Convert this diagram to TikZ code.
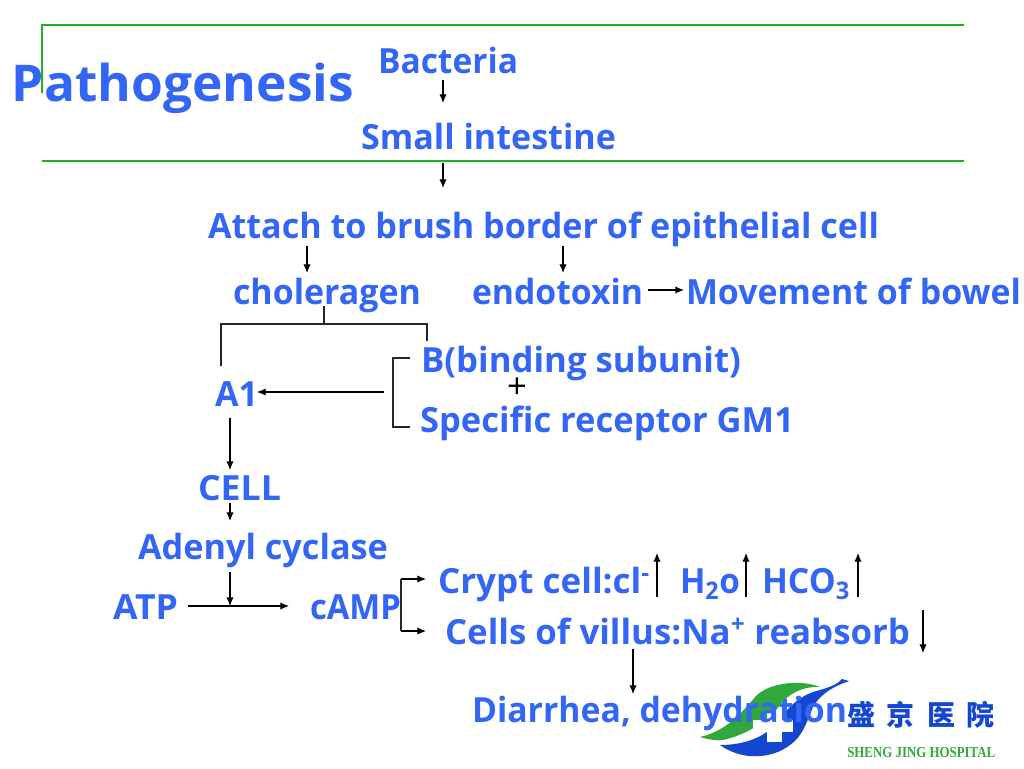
\documentclass[tikz,border=0pt]{standalone}
\usepackage{fontspec}
\usepackage{graphicx}
\setmainfont{Open Sans}
\newfontfamily\cjkfont{Noto Sans CJK SC}
\newfontfamily\hospfont{Liberation Serif}
\definecolor{txtblue}{HTML}{3366F5}
\definecolor{rulegreen}{HTML}{22B022}
\definecolor{logogreen}{HTML}{2FA83C}
\definecolor{logoblue}{HTML}{1546D2}
\usetikzlibrary{arrows.meta}
\newlength\fitlen
\newcommand\fitpx[2]{\setlength\fitlen{#1pt}\setlength\fitlen{0.75\fitlen}\resizebox{\fitlen}{\height}{#2}}
\tikzset{
  x=0.75pt,y=-0.75pt,
  lbl/.style={anchor=base west,inner sep=0,outer sep=0,yshift=-0.6pt,text=txtblue,font=\bfseries\fontsize{26}{30}\selectfont},
  conn/.style={draw=black,line width=0.8pt,-{Latex[length=6.5pt,width=5.5pt]}},
  plain/.style={draw=black!85,line width=0.8pt},
  greenrule/.style={draw=rulegreen,line width=1.2pt}
}
\begin{document}
\begin{tikzpicture}
\useasboundingbox (0,0) rectangle (1024,768);
% logo
\fill[logogreen] (700,737) .. controls (730,730) and (745,708) .. (757,695) .. controls (770,683) and (800,679) .. (820,687) .. controls (805,686) and (790,692) .. (780,705) .. controls (768,722) and (745,735) .. (723,740) .. controls (715,741) and (707,739) .. (700,737) -- cycle;
\fill[logoblue] (720,745) .. controls (745,745) and (765,737) .. (778,722) .. controls (790,705) and (800,695) .. (820,690) .. controls (830,687) and (838,684) .. (842,679) -- (849,681) .. controls (835,686) and (822,692) .. (813,707) .. controls (807,722) and (802,737) .. (790,745) .. controls (772,759) and (742,761) .. (720,745) -- cycle;
\fill[white] (767,712) rectangle (782,742);
\fill[white] (753,720) rectangle (793,732);
\node[anchor=center,inner sep=0,text=logoblue,font=\cjkfont\bfseries\fontsize{21}{26}\selectfont] (hname) at (921,715) {盛\hspace{9pt}京\hspace{9pt}医\hspace{9pt}院};
\node[anchor=base west,inner sep=0,text=logogreen,font=\hospfont\bfseries\fontsize{11.5}{13}\selectfont] (hsub) at (847,757) {\fitpx{148}{SHENG JING HOSPITAL}};
% text
\node[lbl,font=\bfseries\fontsize{38}{42}\selectfont] (title) at (12,101) {\fitpx{342}{Pathogenesis}};
\node[lbl] (bact) at (378,73) {\fitpx{140}{Bacteria}};
\node[lbl] (small) at (361,149) {\fitpx{255}{Small intestine}};
\node[lbl] (attach) at (208,238) {\fitpx{671}{Attach to brush border of epithelial cell}};
\node[lbl] (chol) at (233,304) {\fitpx{188}{choleragen}};
\node[lbl] (endo) at (472,304) {\fitpx{171}{endotoxin}};
\node[lbl] (move) at (686,304) {\fitpx{335}{Movement of bowel}};
\node[lbl] (bsub) at (421,372) {\fitpx{320}{B(binding subunit)}};
\node[lbl] (spec) at (420,432) {\fitpx{374}{Specific receptor GM1}};
\node[lbl] (aone) at (215,406) {\fitpx{43}{A1}};
\node[lbl] (cell) at (198,500) {\fitpx{83}{CELL}};
\node[lbl] (adenyl) at (138,559) {\fitpx{250}{Adenyl cyclase}};
\node[lbl] (atp) at (113,619) {\fitpx{65}{ATP}};
\node[lbl] (camp) at (310,619) {\fitpx{91}{cAMP}};
\node[lbl] (crypt) at (438,593) {\fitpx{212}{Crypt cell:cl\textsuperscript{-}}};
\node[lbl] (water) at (680,593) {\fitpx{60}{H\textsubscript{2}o}};
\node[lbl] (hco) at (762,593) {\fitpx{88}{HCO\textsubscript{3}}};
\node[lbl] (villus) at (445,644) {\fitpx{465}{Cells of villus:Na\textsuperscript{+} reabsorb}};
\node[lbl] (diarr) at (472,722) {\fitpx{375}{Diarrhea, dehydration}};
\node[anchor=center,inner sep=0,font=\fontsize{26}{26}\selectfont] (plus) at (517,388) {+};
% green rules
\coordinate (gA) at (42,93); \coordinate (gB) at (42,25); \coordinate (gC) at (964,25);
\coordinate (gD) at (42,161); \coordinate (gE) at (964,161);
\draw[greenrule] (gA) -- (gB) -- (gC);
\draw[greenrule] (gD) -- (gE);
% connector ends
\foreach \n/\x/\y in {a/443/80,b/443/103,c/443/163,d/443/188,e/307/246,f/307/273,g/563/246,h/563/273,i/648/290,j/684/290,
 k/324/306,l/324/324,m/221/324,n/427/324,o/221/366,p/427/341,
 q/410/358,r/393/358,s/393/427,t/410/427,u/384/392,v/257/392,
 w/230/418,x/230/470,y/230/503,z/230/521,aa/230/572,ab/230/606,ac/188/606,ad/289/606,
 ae/401/579,af/401/631,ag/426/579,ah/426/631,
 ai/657/597,aj/657/553,ak/746/597,al/746/553,am/858/597,an/858/553,ao/923/610,ap/923/653,aq/633/649,ar/633/694}
 {\coordinate (\n) at (\x,\y);}
\draw[conn] (a) -- (b);
\draw[conn] (c) -- (d);
\draw[conn] (e) -- (f);
\draw[conn] (g) -- (h);
\draw[conn] (i) -- (j);
\draw[plain] (k) -- (l);
\draw[plain] (o) -- (m) -- (n) -- (p);
\draw[plain] (q) -- (r) -- (s) -- (t);
\draw[conn] (u) -- (v);
\draw[conn] (w) -- (x);
\draw[conn] (y) -- (z);
\draw[conn] (aa) -- (ab);
\draw[conn] (ac) -- (ad);
\draw[plain] (af) -- (ae);
\draw[conn] (ae) -- (ag);
\draw[conn] (af) -- (ah);
\draw[conn] (ai) -- (aj);
\draw[conn] (ak) -- (al);
\draw[conn] (am) -- (an);
\draw[conn] (ao) -- (ap);
\draw[conn] (aq) -- (ar);
\end{tikzpicture}
\end{document}
